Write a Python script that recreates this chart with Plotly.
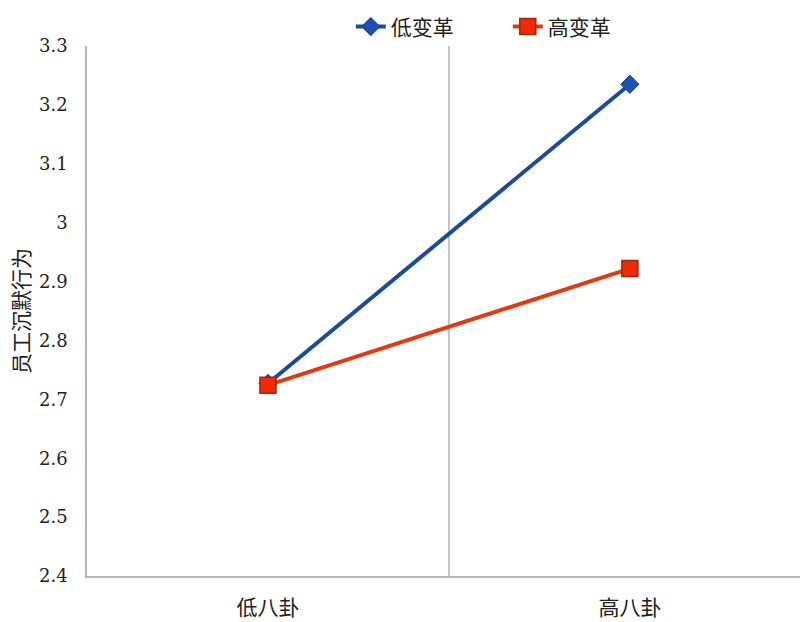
import plotly.graph_objects as go

categories = ["低八卦", "高八卦"]
low_change = [2.727, 3.235]
high_change = [2.724, 2.922]
y_ticks = [2.4, 2.5, 2.6, 2.7, 2.8, 2.9, 3.0, 3.1, 3.2, 3.3]
y_tick_text = ["2.4", "2.5", "2.6", "2.7", "2.8", "2.9", "3", "3.1", "3.2", "3.3"]

serif = "DejaVu Serif"
cjk = "Noto Sans CJK SC"

fig = go.Figure()
fig.add_trace(go.Scatter(
    x=[0, 1], y=low_change, name="低变革", mode="lines+markers",
    line=dict(color="#1c4b98", width=4),
    marker=dict(symbol="diamond", size=14, color="#1f4fb0", line=dict(color="#123a80", width=1)),
))
fig.add_trace(go.Scatter(
    x=[0, 1], y=high_change, name="高变革", mode="lines+markers",
    line=dict(color="#e03a10", width=4),
    marker=dict(symbol="square", size=16, color="#f02a08", line=dict(color="#9a2a0a", width=1.5)),
))

fig.add_shape(type="line", xref="x", yref="paper", x0=0.5, x1=0.5, y0=0, y1=1,
              line=dict(color="#b4b4b4", width=1.5), layer="below")

fig.update_layout(
    width=801, height=622,
    margin=dict(l=87, r=1, t=46, b=46, autoexpand=False),
    plot_bgcolor="white", paper_bgcolor="white",
    showlegend=True,
    legend=dict(orientation="h", x=0.37, xanchor="left", y=1.036, yanchor="middle",
                font=dict(family=cjk, size=21, color="#222"), bgcolor="rgba(0,0,0,0)",
                entrywidth=112, entrywidthmode="pixels", tracegroupgap=0),
    xaxis=dict(range=[-0.5, 1.47], tickvals=[0, 1], ticktext=categories,
               showgrid=False, zeroline=False, showline=True, linecolor="#b4b4b4", linewidth=1.5,
               ticks="", ticklabelstandoff=12,
               tickfont=dict(family=cjk, size=21, color="#222")),
    yaxis=dict(range=[2.4, 3.3], tickvals=y_ticks, ticktext=y_tick_text,
               showgrid=False, zeroline=False, showline=True, linecolor="#b4b4b4", linewidth=1.5,
               ticks="", ticklabelstandoff=14,
               tickfont=dict(family=serif, size=18, color="#222"),
               title=dict(text="员工沉默行为", font=dict(family=cjk, size=21, color="#222"), standoff=4)),
)

fig.write_html("out.html")
